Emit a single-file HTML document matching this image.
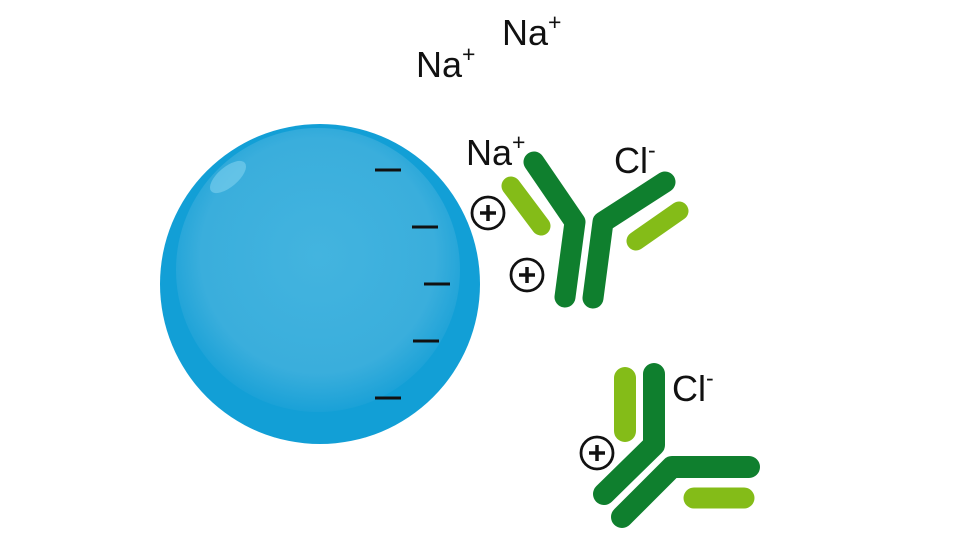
<!DOCTYPE html>
<html><head><style>body{margin:0;background:#fff}</style></head><body>
<svg width="960" height="540" viewBox="0 0 960 540" xmlns="http://www.w3.org/2000/svg" style="display:block">
<defs>
<radialGradient id="g" cx="0.5" cy="0.45" r="0.55">
<stop offset="0" stop-color="#43b4df"/><stop offset="0.75" stop-color="#3aaedc"/><stop offset="1" stop-color="#1aa1d7"/>
</radialGradient>
</defs>
<circle cx="320" cy="284" r="160" fill="#129fd6"/>
<circle cx="318" cy="270" r="142" fill="url(#g)"/>
<ellipse cx="228" cy="177" rx="22" ry="10" fill="#7fd0ee" opacity="0.6" transform="rotate(-40 228 177)"/>
<g stroke="#111" stroke-width="3">
<line x1="375" y1="170" x2="401" y2="170"/><line x1="412" y1="227" x2="438" y2="227"/>
<line x1="424" y1="284" x2="450" y2="284"/><line x1="413" y1="341" x2="439" y2="341"/>
<line x1="375" y1="398" x2="401" y2="398"/>
</g>
<g fill="none" stroke-linecap="round" stroke-linejoin="round">
<polyline points="534,162 575,222 565,297" stroke="#0f7f2e" stroke-width="21"/>
<polyline points="665,182 603,222 593,298" stroke="#0f7f2e" stroke-width="21"/>
<line x1="511" y1="186" x2="541" y2="226" stroke="#84bc18" stroke-width="19"/>
<line x1="679" y1="211" x2="636" y2="241" stroke="#84bc18" stroke-width="19"/>
<polyline points="654,374 654,445 604,494" stroke="#0f7f2e" stroke-width="22"/>
<polyline points="749,467 672,467 622,517" stroke="#0f7f2e" stroke-width="22"/>
<line x1="625" y1="378" x2="625" y2="431" stroke="#84bc18" stroke-width="22"/>
<line x1="694" y1="498" x2="744" y2="498" stroke="#84bc18" stroke-width="21"/>
</g>
<g fill="none" stroke="#111" stroke-width="2.8">
<circle cx="488" cy="213" r="16"/><circle cx="527" cy="275" r="16"/><circle cx="597" cy="453" r="16"/>
<path d="M480 213h16M488 205v16M519 275h16M527 267v16M589 453h16M597 445v16" stroke-width="3.5"/>
</g>
<g font-family="Liberation Sans, sans-serif" font-size="36" fill="#111">
<text x="416" y="77">Na<tspan font-size="23" dy="-15">+</tspan></text>
<text x="502" y="45">Na<tspan font-size="23" dy="-15">+</tspan></text>
<text x="466" y="165">Na<tspan font-size="23" dy="-15">+</tspan></text>
<text x="614" y="173">Cl<tspan font-size="23" dy="-15">-</tspan></text>
<text x="672" y="401">Cl<tspan font-size="23" dy="-15">-</tspan></text>
</g>
</svg>
</body></html>
